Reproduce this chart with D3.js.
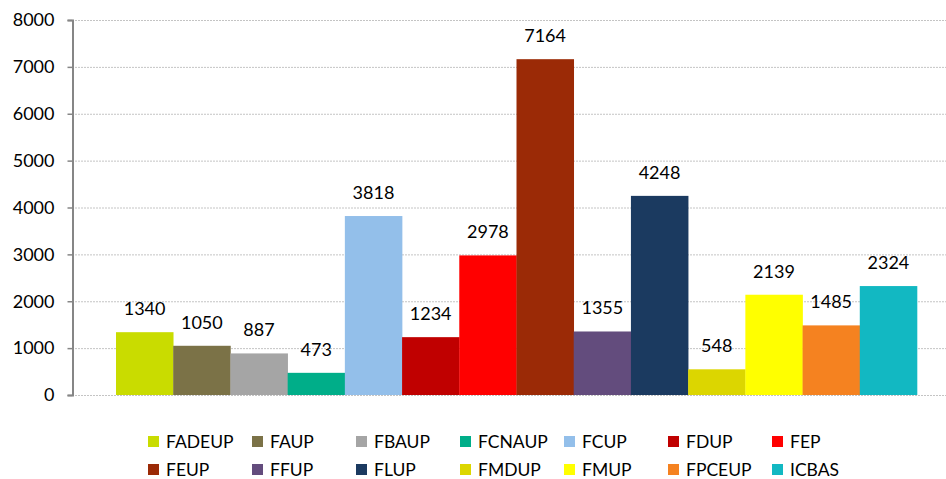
<!DOCTYPE html>
<html>
<head>
<meta charset="utf-8">
<script src="https://cdn.jsdelivr.net/npm/d3@7"></script>
<style>
  body { margin: 0; background: #fff; }
  svg text { font-family: Lato, "Open Sans", sans-serif; fill: #000; }
</style>
</head>
<body>
<div id="chart"></div>
<script>
const categories = ['FADEUP', 'FAUP', 'FBAUP', 'FCNAUP', 'FCUP', 'FDUP', 'FEP',
                    'FEUP', 'FFUP', 'FLUP', 'FMDUP', 'FMUP', 'FPCEUP', 'ICBAS'];
const values = [1340, 1050, 887, 473, 3818, 1234, 2978, 7164, 1355, 4248, 548, 2139, 1485, 2324];
const colors = ['#C9DC00', '#7B7247', '#A5A5A5', '#00AE89', '#93BFEA', '#C00000', '#FF0000',
                '#9B2A06', '#634C7D', '#1B3A60', '#DCD600', '#FFFF00', '#F58220', '#12B8C2'];
const yTicks = [0, 1000, 2000, 3000, 4000, 5000, 6000, 7000, 8000];

const width = 946, height = 479;

const svg = d3.select('#chart').append('svg')
    .attr('width', width)
    .attr('height', height);

const xScale = d3.scaleBand(categories, [116, 917]).padding(0);
const yScale = d3.scaleLinear([0, 8000], [395, 20]);
const color = d3.scaleOrdinal(categories, colors);

// gridlines
svg.append('g')
    .selectAll('line')
    .data(yTicks)
    .enter()
    .append('line')
        .attr('x1', 72)
        .attr('x2', width)
        .attr('y1', d => yScale(d) + 0.5)
        .attr('y2', d => yScale(d) + 0.5)
        .attr('stroke', '#c4c4c4')
        .attr('stroke-dasharray', '2,1');

// y axis
const yAxis = svg.append('g')
    .attr('transform', 'translate(72.5, 0)')
    .call(d3.axisLeft(yScale).tickValues(yTicks).tickSize(5).tickPadding(13).tickFormat(d3.format('d')));
yAxis.select('.domain').attr('stroke', '#868686').attr('stroke-width', 2);
yAxis.selectAll('.tick line').attr('stroke', '#868686').attr('stroke-width', 1.5);
yAxis.selectAll('.tick text')
    .style('font-family', 'Lato, "Open Sans", sans-serif')
    .style('font-size', '18px')
    .attr('fill', '#000');

// bars
svg.append('g')
    .selectAll('rect')
    .data(categories)
    .enter()
    .append('rect')
        .attr('x', d => xScale(d))
        .attr('y', (d, i) => yScale(values[i]))
        .attr('width', xScale.bandwidth() + 0.3)
        .attr('height', (d, i) => yScale(0) - yScale(values[i]))
        .attr('fill', d => color(d));

// value labels
svg.append('g')
    .selectAll('text')
    .data(categories)
    .enter()
    .append('text')
        .attr('x', d => xScale(d) + xScale.bandwidth() / 2)
        .attr('y', (d, i) => yScale(values[i]) - 17)
        .attr('text-anchor', 'middle')
        .style('font-size', '18px')
        .text((d, i) => values[i]);

// legend
const legend = svg.append('g')
    .selectAll('g')
    .data(categories)
    .enter()
    .append('g')
        .attr('transform', (d, i) => `translate(${148 + (i % 7) * 104}, ${436 + Math.floor(i / 7) * 28})`);

legend.append('rect')
    .attr('width', 11)
    .attr('height', 11)
    .attr('fill', d => color(d));

legend.append('text')
    .attr('x', 18)
    .attr('y', 11.5)
    .style('font-size', '17.5px')
    .text(d => d);
</script>
</body>
</html>
